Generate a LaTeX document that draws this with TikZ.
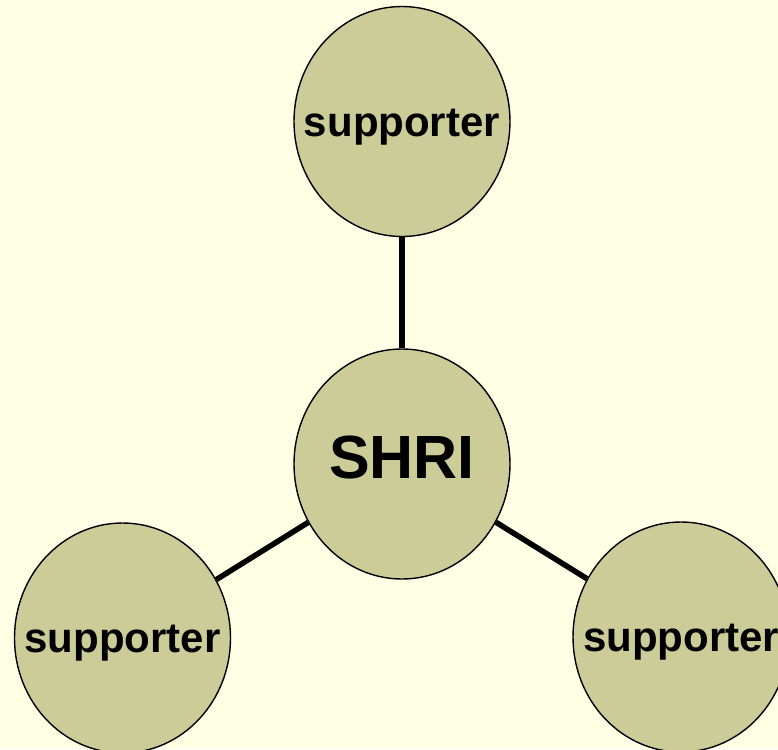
\documentclass[tikz,border=0pt]{standalone}
\usepackage{fontspec}
\setmainfont{Liberation Sans}
\usetikzlibrary{shapes.geometric}
\definecolor{bgyellow}{RGB}{255,255,229}
\definecolor{olivefill}{RGB}{204,204,153}
\newcommand{\bubbletext}[1]{\makebox[0pt]{#1}}
\tikzset{
  bubble/.style={ellipse, draw=black, line width=1.4pt, fill=olivefill,
    minimum width=216pt, minimum height=230pt, inner sep=0pt,
    font=\bfseries\fontsize{42}{42}\selectfont, text height=29pt, text depth=0pt},
  hub/.style={bubble, font=\bfseries\fontsize{61}{61}\selectfont, text height=28pt},
  link/.style={line width=5.5pt, black}
}
\begin{document}
\begin{tikzpicture}[x=1pt,y=-1pt]
  \fill[bgyellow] (0,0) rectangle (778,749);
  \useasboundingbox (0,0) rectangle (778,749);
  \clip (0,0) rectangle (778,749);
  \node[bubble] (top) at (402,121.5) {\bubbletext{supporter}};
  \node[hub] (shri) at (402,464) {\bubbletext{SHRI}};
  \node[bubble] (bl) at (122.5,638) {\bubbletext{supporter}};
  \node[bubble] (br) at (681,637) {\bubbletext{supporter}};
  \draw[link] (shri) -- (top);
  \draw[link] (shri) -- (bl);
  \draw[link] (shri) -- (br);
\end{tikzpicture}
\end{document}
